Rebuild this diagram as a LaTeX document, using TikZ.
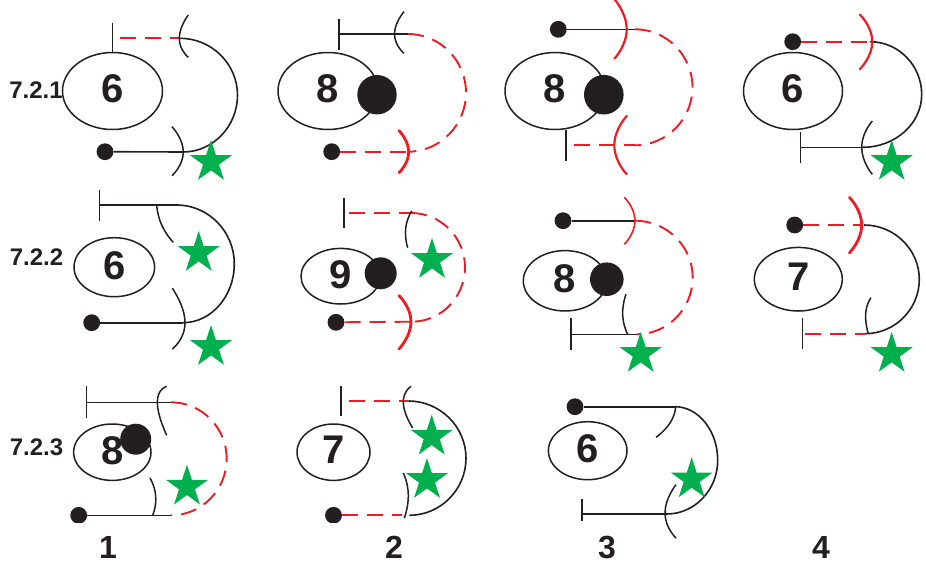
\documentclass[tikz,border=0pt]{standalone}
\usepackage{fontspec}
\setmainfont{Liberation Sans}
\usetikzlibrary{calc,shapes.geometric}
\definecolor{ink}{RGB}{35,31,32}
\definecolor{rouge}{RGB}{237,28,36}
\definecolor{leaf}{RGB}{0,175,78}
\tikzset{
  bk/.style={draw=ink,line width=1.6pt},
  rd/.style={draw=rouge,line width=1.9pt,dash pattern=on 16pt off 9pt},
  hk/.style={draw=ink,line width=1.5pt},
  hr/.style={draw=rouge,line width=1.6pt},
  hrm/.style={draw=rouge,line width=2.2pt,line cap=round},
  hrt/.style={draw=rouge,line width=2.8pt,line cap=round},
  oval/.style={ellipse,draw=ink,line width=1.5pt,inner sep=0pt,fill=white,text=ink,text depth=4pt,font=\fontsize{40}{40}\selectfont\bfseries},
  ball/.style={circle,fill=ink,inner sep=0pt},
  tdot/.style={circle,fill=ink,inner sep=0pt,minimum size=16.8pt},
  gstar/.style={star,star points=5,star point ratio=2.618,fill=leaf,inner sep=0pt,minimum size=44pt},
  rowlab/.style={text=ink,font=\fontsize{24}{24}\selectfont\bfseries},
  collab/.style={text=ink,font=\fontsize{32}{32}\selectfont\bfseries}
}
% half loop from A to B bulging out to x = #4
\newcommand\loopcurve[4][bk]{%
  \draw[#1] let \p1=(#2),\p2=(#3),\n1={#4pt},\n2={(\y1+\y2)/2} in
   (\p1) .. controls (\x1+0.55*\n1-0.55*\x1,\y1) and (\n1,\n2+0.55*\y1-0.55*\n2) .. (\n1,\n2)
   .. controls (\n1,\n2+0.55*\y2-0.55*\n2) and (\x2+0.55*\n1-0.55*\x2,\y2) .. (\p2);}
\newcommand\hookarc[4][hk]{\draw[#1] plot[smooth,tension=1] coordinates {(#2) (#3) (#4)};}
\begin{document}
\begin{tikzpicture}[x=1pt,y=-1pt]
\useasboundingbox (0,0) rectangle (926,563);
% labels
\node[rowlab] (r1) at (36,90) {7.2.1};
\node[rowlab] (r2) at (36.5,257.5) {7.2.2};
\node[rowlab] (r3) at (36.5,447) {7.2.3};
\node[collab] (c1) at (108,547) {1};
\node[collab] (c2) at (394,547) {2};
\node[collab] (c3) at (607,547) {3};
\node[collab] (c4) at (821,547) {4};

% ---- row 1, col 1
\node[oval,minimum width=100pt,minimum height=77pt] (a) at (112.5,91) {6};
\node[tdot] (ad) at (105,151.7) {};
\coordinate (abt) at (112.3,22.7); \coordinate (abb) at (112.3,52.7);
\coordinate (as) at (120,38.3); \coordinate (at) at (180,38.3); \coordinate (ab) at (183,152);
\draw[bk] (abt) -- (abb);
\draw[rd] (as) -- (at);
\draw[bk] (ad) -- (ab);
\loopcurve{at}{ab}{237.5}
\hookarc{188.3,15}{179.3,38.3}{188.3,57.3}
\hookarc{172,126.7}{183.3,152}{172,175.7}
\node[gstar] (as1) at (211,162) {};

% ---- row 1, col 2
\node[oval,minimum width=100pt,minimum height=77pt] (b) at (328,91) {8};
\node[ball,minimum size=39.4pt] (bc) at (377,94.7) {};
\node[tdot] (bd) at (331.7,151.7) {};
\coordinate (bbt) at (339,19); \coordinate (bbb) at (339,50); \coordinate (bbm) at (339,34);
\coordinate (bt) at (408,34); \coordinate (bb) at (408,151.7);
\draw[bk] (bbt) -- (bbb);
\draw[bk] (bbm) -- (bt);
\draw[rd] (bd) -- (bb);
\loopcurve[rd]{bt}{bb}{466}
\hookarc{404,11.7}{394.5,34}{404,53.3}
\hookarc[hrt]{399,130.7}{408.7,152}{399,172.7}

% ---- row 1, col 3
\node[oval,minimum width=100pt,minimum height=77pt] (e) at (555,91) {8};
\node[ball,minimum size=39.6pt] (ec) at (603.8,94.7) {};
\node[tdot] (ed) at (558.3,29.3) {};
\coordinate (ebt) at (566,130); \coordinate (ebb) at (566,160.7);
\coordinate (es) at (574,145.3); \coordinate (et) at (635,29.3); \coordinate (eb) at (635,145.3);
\draw[bk] (ebt) -- (ebb);
\draw[bk] (ed) -- (et);
\draw[rd] (es) -- (eb);
\loopcurve[rd]{et}{eb}{692.5}
\hookarc[hrm]{614.3,-1}{626.7,29.3}{614.3,58.7}
\hookarc[hrm]{626.7,116}{614.3,145.3}{626.7,174.3}

% ---- row 1, col 4
\node[oval,minimum width=99pt,minimum height=77pt] (f) at (793,91) {6};
\node[tdot] (fd) at (792.7,41.7) {};
\coordinate (fbt) at (800.3,132.3); \coordinate (fbb) at (800.3,163.3); \coordinate (fbm) at (800.3,147.3);
\coordinate (ft) at (870,41.7); \coordinate (fb) at (863,147.3);
\draw[bk] (fbt) -- (fbb);
\draw[bk] (fbm) -- (fb);
\draw[rd] (fd) -- (ft);
\loopcurve{ft}{fb}{921.7}
\hookarc[hrm]{860,14.7}{872.3,41.7}{860,69}
\hookarc{872.3,121}{861.7,147.3}{872.3,174.3}
\node[gstar] (fs1) at (891.7,162) {};

% ---- row 2, col 1
\node[oval,minimum width=80.6pt,minimum height=59pt] (g) at (114.3,267.2) {6};
\node[tdot] (gd) at (91.7,322.7) {};
\coordinate (gbt) at (99.3,190); \coordinate (gbb) at (99.3,220.7); \coordinate (gbm) at (99.3,205);
\coordinate (gt) at (176.7,205); \coordinate (gb) at (183,322.7);
\draw[bk] (gbt) -- (gbb);
\draw[bk] (gbm) -- (gt);
\draw[bk] (gd) -- (gb);
\loopcurve{gt}{gb}{234.3}
\hookarc{156.7,205}{161.7,225}{173.3,242.3}
\hookarc{172.3,288.3}{185,322.7}{172.3,349}
\node[gstar] (gs1) at (198.7,253) {};
\node[gstar] (gs2) at (211,347) {};

% ---- row 2, col 2
\node[oval,minimum width=79.4pt,minimum height=55.6pt] (h) at (340.7,276.2) {9};
\node[ball,minimum size=32pt] (hc) at (380.7,273.3) {};
\node[tdot] (hd) at (336,322.3) {};
\coordinate (hbt) at (344,197.7); \coordinate (hbb) at (344,228.3);
\coordinate (hs) at (349,213); \coordinate (ht) at (411,213); \coordinate (hb) at (411.7,321.7);
\draw[bk] (hbt) -- (hbb);
\draw[rd] (hs) -- (ht);
\draw[rd] (hd) -- (hb);
\loopcurve[rd]{ht}{hb}{465}
\hookarc{411.7,211}{405.7,228.3}{407.7,247.7}
\hookarc[hrt]{399,295.7}{411,321.7}{399,349}
\node[gstar] (hs1) at (432,260) {};

% ---- row 2, col 3
\node[oval,minimum width=83.4pt,minimum height=60.4pt] (k) at (565,280.8) {8};
\node[ball,minimum size=33.6pt] (kc) at (606.8,279.2) {};
\node[tdot] (kd) at (563,220.7) {};
\coordinate (kbt) at (570.7,318.3); \coordinate (kbb) at (570.7,350); \coordinate (kbm) at (570.7,334.3);
\coordinate (kt) at (635,220.7); \coordinate (kb) at (636.7,334.3);
\draw[bk] (kbt) -- (kbb);
\draw[bk] (kd) -- (kt);
\draw[bk] (kbm) -- (kb);
\loopcurve[rd]{kt}{kb}{692.7}
\hookarc[hr]{624.3,197.3}{635,220.7}{624.3,244.3}
\hookarc{626,294.3}{622.7,315}{627.7,334.3}
\node[gstar] (ks1) at (640.7,354) {};

% ---- row 2, col 4
\node[oval,minimum width=88pt,minimum height=63.6pt] (m) at (798.3,279.2) {7};
\node[tdot] (md) at (794.7,225) {};
\coordinate (mbt) at (802.3,318.3); \coordinate (mbb) at (802.3,349.3);
\coordinate (ms) at (805,333.7); \coordinate (mt) at (864,225); \coordinate (mh) at (861.7,225); \coordinate (mb) at (865,333.7);
\draw[bk] (mbt) -- (mbb);
\draw[rd] (md) -- (mh);
\draw[rd] (ms) -- (mb);
\loopcurve{mt}{mb}{919.3}
\hookarc[hrt]{849.3,197.3}{861.7,225}{849.3,253}
\hookarc{871,297.7}{865.7,313.3}{868.3,333.7}
\node[gstar] (ms1) at (891.7,354) {};

% ---- row 3, col 1
\node[oval,minimum width=77.4pt,minimum height=56.4pt] (n) at (112.3,452.2) {8};
\node[ball,minimum size=31pt] (nc) at (135.7,439.2) {};
\begin{scope}
\clip (60,490) rectangle (100,522);
\node[tdot] (nd) at (78.7,515.3) {};
\end{scope}
\coordinate (nbt) at (86.3,386.3); \coordinate (nbb) at (86.3,418); \coordinate (nbm) at (86.3,402.3);
\coordinate (nt) at (171,402.3); \coordinate (nb) at (171,515.3);
\draw[bk] (nbt) -- (nbb);
\draw[bk] (nbm) -- (nt);
\draw[bk] (nd) -- (nb);
\loopcurve[rd]{nt}{nb}{226.7}
\hookarc{166.7,386.3}{157.3,402.3}{166.7,435.3}
\hookarc{150,478}{155.7,496.3}{152.7,515.3}
\node[gstar] (ns1) at (187,486.7) {};

% ---- row 3, col 2
\node[oval,minimum width=73pt,minimum height=56.4pt] (p) at (333.5,452.2) {7};
\begin{scope}
\clip (315,490) rectangle (355,522);
\node[tdot] (pd) at (333.5,515.3) {};
\end{scope}
\coordinate (pbt) at (341,385.7); \coordinate (pbb) at (341,416.3);
\coordinate (ps) at (349,401); \coordinate (pt) at (408.3,401); \coordinate (pe) at (401.7,515.3); \coordinate (pb) at (409.3,515.3);
\draw[bk] (pbt) -- (pbb);
\draw[rd] (ps) -- (pt);
\draw[rd] (pd) -- (pe);
\loopcurve{pt}{pb}{466}
\hookarc{411,386.3}{403.3,403}{412.7,428}
\hookarc{403.3,473}{408.3,494.7}{404.3,518}
\node[gstar] (ps1) at (431.7,436.7) {};
\node[gstar] (ps2) at (427,480) {};

% ---- row 3, col 3
\node[oval,minimum width=78.6pt,minimum height=58pt] (q) at (587.7,450.7) {6};
\node[tdot] (qd) at (575,406.7) {};
\coordinate (qbt) at (582,499); \coordinate (qbb) at (582,521.3); \coordinate (qbm) at (582,514);
\coordinate (qt) at (675,406.7); \coordinate (qb) at (666.7,514);
\draw[bk] (qbt) -- (qbb);
\draw[bk] (qd) -- (qt);
\draw[bk] (qbm) -- (qb);
\loopcurve{qt}{qb}{717.7}
\hookarc{675.7,406.7}{670,423}{656,437.3}
\hookarc{676,484.7}{665,513}{676,538}
\node[gstar] (qs1) at (691.7,479.3) {};
\end{tikzpicture}
\end{document}
